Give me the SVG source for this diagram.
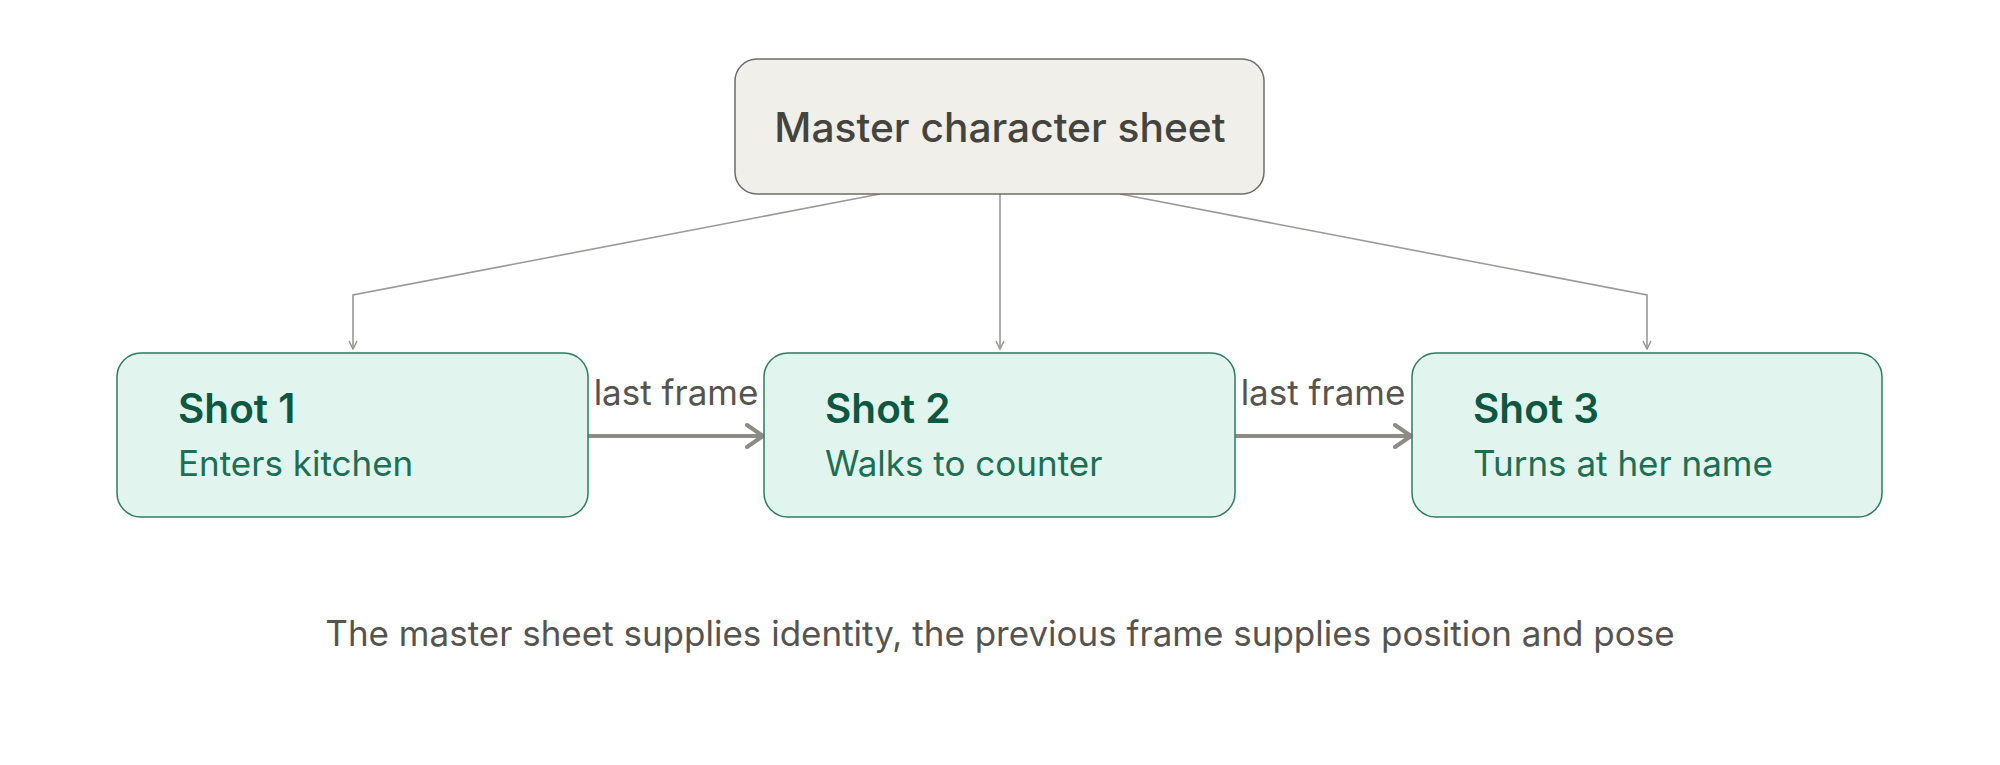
<svg xmlns="http://www.w3.org/2000/svg" width="2000" height="765" viewBox="0 0 2000 765">
<defs>
<style>
.t{font-family:Inter,"Liberation Sans",sans-serif}
.master{fill:#f1efe9;stroke:#6e6c67;stroke-width:1.5}
.shot{fill:#e1f4ed;stroke:#2b7c60;stroke-width:1.5}
.mt{font-size:40.7px;font-weight:500;fill:#44443f;text-anchor:middle}
.st{font-size:40.5px;font-weight:600;fill:#0b5843}
.ss{font-size:35px;fill:#1a6f55}
.thin{fill:none;stroke:#9b9994;stroke-width:1.6}
.thick{fill:none;stroke:#8d8b86;stroke-width:4}
.lbl{font-size:35px;fill:#555450;text-anchor:middle}
.foot{font-size:35px;fill:#555450;text-anchor:middle}
</style>
<marker id="sm" viewBox="0 0 10 10" refX="9" refY="5" markerWidth="10" markerHeight="10" markerUnits="userSpaceOnUse" orient="auto">
<path d="M1,1 L9,5 L1,9" fill="none" stroke="#9b9994" stroke-width="1.6"/>
</marker>
<marker id="bm" viewBox="0 0 20 28" refX="18" refY="14" markerWidth="20" markerHeight="28" markerUnits="userSpaceOnUse" orient="auto">
<path d="M2,3 L18,14 L2,25" fill="none" stroke="#8d8b86" stroke-width="4" stroke-linecap="round" stroke-linejoin="round"/>
</marker>
</defs>
<rect width="2000" height="765" fill="#ffffff"/>
<g id="connectors">
<polyline class="thin" points="880,194 353,295 353,349" marker-end="url(#sm)"/>
<line class="thin" x1="1000" y1="194" x2="1000" y2="349" marker-end="url(#sm)"/>
<polyline class="thin" points="1120,194 1647,295 1647,349" marker-end="url(#sm)"/>
<line class="thick" x1="588" y1="436" x2="763" y2="436" marker-end="url(#bm)"/>
<text class="t lbl" x="676" y="405">last frame</text>
<line class="thick" x1="1235" y1="436" x2="1411" y2="436" marker-end="url(#bm)"/>
<text class="t lbl" x="1323" y="405">last frame</text>
</g>
<g id="master">
<rect class="master" x="735" y="59" width="529" height="135" rx="22"/>
<text class="t mt" x="1000" y="142">Master character sheet</text>
</g>
<g id="shot1">
<rect class="shot" x="117" y="353" width="471" height="164" rx="24"/>
<text class="t st" x="178" y="423">Shot 1</text>
<text class="t ss" x="178" y="476">Enters kitchen</text>
</g>
<g id="shot2">
<rect class="shot" x="764" y="353" width="471" height="164" rx="24"/>
<text class="t st" x="825" y="423">Shot 2</text>
<text class="t ss" x="825" y="476">Walks to counter</text>
</g>
<g id="shot3">
<rect class="shot" x="1412" y="353" width="470" height="164" rx="24"/>
<text class="t st" x="1473" y="423">Shot 3</text>
<text class="t ss" x="1473" y="476">Turns at her name</text>
</g>
<text id="caption" class="t foot" x="1000" y="646">The master sheet supplies identity, the previous frame supplies position and pose</text>
</svg>
